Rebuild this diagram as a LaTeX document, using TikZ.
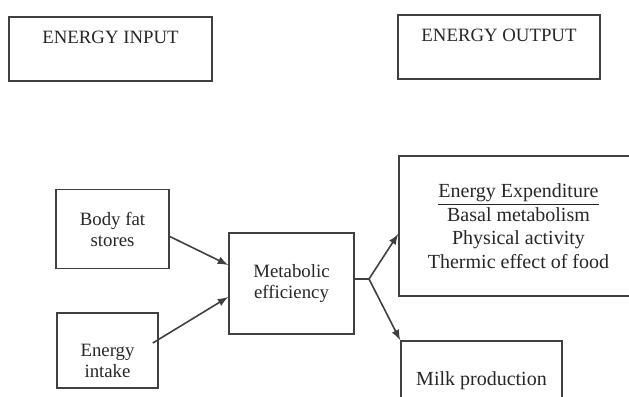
\documentclass[tikz,border=0pt]{standalone}
\usepackage{fontspec}
\setmainfont{Liberation Serif}
\usetikzlibrary{arrows}

\tikzset{
    box/.style={draw=black!75, line width=0.8pt, rectangle, inner sep=0pt, align=center, text=black!85},
    flow/.style={draw=black!75, line width=0.8pt, -latex},
    small/.style={font=\fontsize{9.4}{10.5}\selectfont},
    big/.style={font=\fontsize{10}{11.8}\selectfont}
}

\begin{document}
\begin{tikzpicture}[x=0.5pt,y=-0.5pt]
        \useasboundingbox (0,0) rectangle (629,397);
        \clip (0,0) rectangle (629,397);
        % headings
        \node[box, small, minimum width=101.5pt, text height=13pt, text depth=19pt] (input) at (110.5,49) {ENERGY INPUT};
        \node[box, small, minimum width=101pt, text height=13pt, text depth=19pt] (output) at (499,47) {ENERGY OUTPUT};
        % inputs
        \node[box, small, minimum width=56.5pt, minimum height=39.5pt] (fat) at (112.5,229) {Body fat\\stores};
        \node[box, minimum width=50.5pt, minimum height=37.5pt] (intake) at (107.5,350.5) {};
        \node[small, text=black!85, align=center] (intaketext) at (107.5,361) {Energy\\intake};
        \node[box, small, minimum width=62.5pt, minimum height=50.5pt] (meta) at (291.5,283.5) {Metabolic\\efficiency};
        % outputs
        \node[box, big, minimum width=119.5pt, minimum height=70pt] (expend) at (518.5,226) {\raisebox{0pt}[\height][1pt]{\underline{Energy Expenditure}}\\Basal metabolism\\Physical activity\\Thermic effect of food};
        \node[box, big, minimum width=80.5pt, text height=22pt, text depth=18pt] (milk) at (481.5,381) {Milk production};
        \coordinate (split) at (369,279);
        % arrows
        \draw[flow] ([yshift=-3.75pt]fat.east) -- ([yshift=9.25pt]meta.west);
        \draw[flow] ([xshift=-3pt,yshift=3.75pt]intake.east) -- ([yshift=-6.75pt]meta.west);
        \draw[draw=black!75, line width=0.8pt] ([yshift=2.25pt]meta.east) -- (split);
        \draw[flow] (split) -- ([yshift=-4pt]expend.west);
        \draw[flow] (split) -- (milk.north west);
    \end{tikzpicture}
\end{document}
